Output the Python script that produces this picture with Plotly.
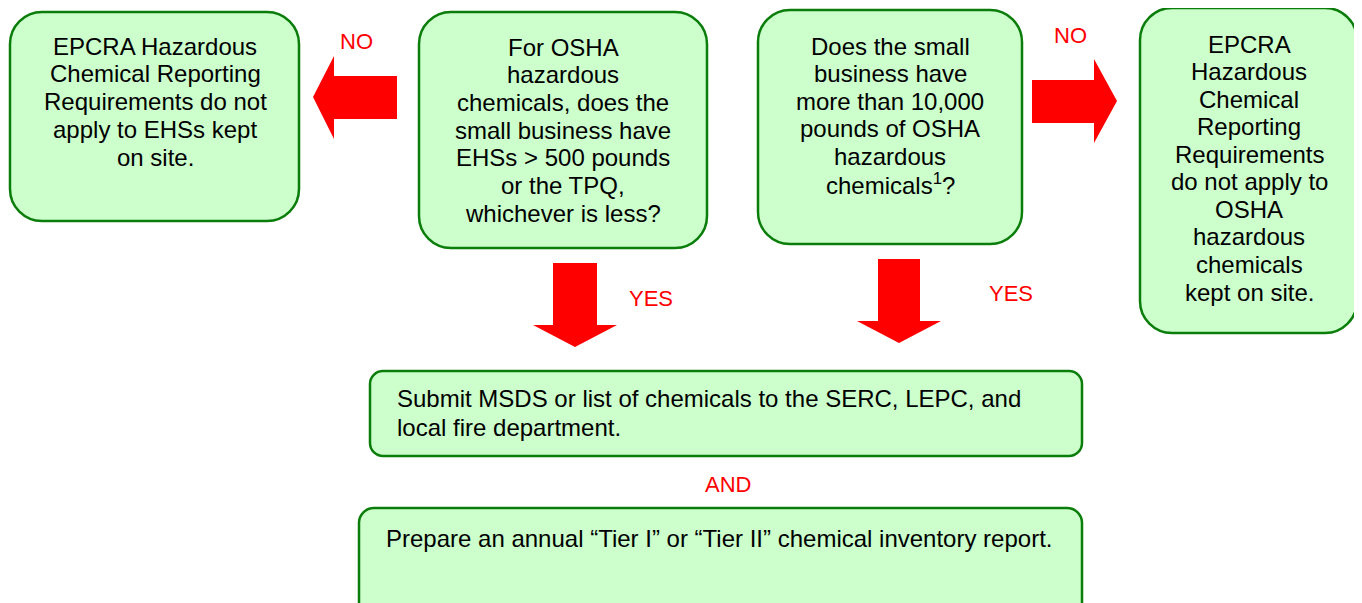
import plotly.graph_objects as go

# ---- content ----
box_texts = [
    ["EPCRA Hazardous", "Chemical Reporting", "Requirements do not", "apply to EHSs kept", "on site."],
    ["For OSHA", "hazardous", "chemicals, does the", "small business have", "EHSs > 500 pounds",
     "or the TPQ,", "whichever is less?"],
    ["Does the small", "business have", "more than 10,000", "pounds of OSHA", "hazardous",
     "chemicals<sup>1</sup>?"],
    ["EPCRA", "Hazardous", "Chemical", "Reporting", "Requirements", "do not apply to", "OSHA",
     "hazardous", "chemicals", "kept on site."],
    ["Submit MSDS or list of chemicals to the SERC, LEPC, and", "local fire department."],
    ["Prepare an annual \u201cTier I\u201d or \u201cTier II\u201d chemical inventory report."],
]
arrow_labels = ["NO", "YES", "YES", "NO", "AND"]

# ---- geometry (pixels, y downward) ----
boxes = [  # x0, y0, x1, y1, radius, text x, first line y, line step, align
    (10, 12, 299, 221, 32, 155, 46, 27.75, "center"),
    (419, 12, 707, 248, 32, 563, 47, 27.67, "center"),
    (758, 10, 1022, 244, 32, 890, 46, 27.6, "center"),
    (1140, 8, 1357, 333, 32, 1249, 44, 27.56, "center"),
    (370, 371, 1082, 456, 13, 395, 398, 29, "left"),
    (359, 508, 1082, 618, 15, 384, 538, 29, "left"),
]
label_pos = [(356, 41), (651, 298), (1011, 293), (1070, 35), (728, 484)]

# arrows: polygon points
arrows = [
    [(397, 76), (334, 76), (334, 56), (313, 97), (334, 139), (334, 119), (397, 119)],
    [(553, 263), (597, 263), (597, 325), (617, 325), (575, 347), (533, 325), (553, 325)],
    [(878, 259), (920, 259), (920, 321), (941, 321), (899, 343), (857, 321), (878, 321)],
    [(1032, 80), (1094, 80), (1094, 59), (1117, 101), (1094, 143), (1094, 123), (1032, 123)],
]

GREEN = "#0A7D0A"
FILL = "#CCFFCC"
RED = "#FF0000"
FONT = "Liberation Sans, Arial, sans-serif"
K = 0.5523
OFF = 8  # page offset compensation


def rounded(x0, y0, x1, y1, r):
    k = r * K
    return (
        f"M {x0+r},{y0} L {x1-r},{y0} "
        f"C {x1-r+k},{y0} {x1},{y0+r-k} {x1},{y0+r} "
        f"L {x1},{y1-r} "
        f"C {x1},{y1-r+k} {x1-r+k},{y1} {x1-r},{y1} "
        f"L {x0+r},{y1} "
        f"C {x0+r-k},{y1} {x0},{y1-r+k} {x0},{y1-r} "
        f"L {x0},{y0+r} "
        f"C {x0},{y0+r-k} {x0+r-k},{y0} {x0+r},{y0} Z"
    )


fig = go.Figure()
shapes = []
annotations = []
for (x0, y0, x1, y1, r, tx, ty, step, al), lines in zip(boxes, box_texts):
    shapes.append(dict(type="path", path=rounded(x0, y0, x1, y1, r), xref="x", yref="y",
                       fillcolor=FILL, line=dict(color=GREEN, width=2.5), layer="below"))
    for i, ln in enumerate(lines):
        annotations.append(dict(x=tx, y=ty + i * step, xref="x", yref="y", text=ln,
                                showarrow=False,
                                xanchor="center" if al == "center" else "left",
                                yanchor="middle", align=al,
                                font=dict(family=FONT, size=24, color="black")))

for pts in arrows:
    p = "M " + " L ".join(f"{x},{y}" for x, y in pts) + " Z"
    shapes.append(dict(type="path", path=p, xref="x", yref="y", fillcolor=RED,
                       line=dict(color=RED, width=0)))

for (lx, ly), lab in zip(label_pos, arrow_labels):
    annotations.append(dict(x=lx, y=ly, xref="x", yref="y", text=lab, showarrow=False,
                            xanchor="center", yanchor="middle",
                            font=dict(family=FONT, size=22, color=RED)))

fig.update_layout(
    width=1362, height=603, margin=dict(l=0, r=0, t=0, b=0),
    paper_bgcolor="white", plot_bgcolor="white",
    xaxis=dict(range=[OFF, 1362 + OFF], visible=False, fixedrange=True),
    yaxis=dict(range=[603 + OFF, OFF], visible=False, fixedrange=True),
    shapes=shapes, annotations=annotations, showlegend=False,
)
fig.write_html("out.html")
